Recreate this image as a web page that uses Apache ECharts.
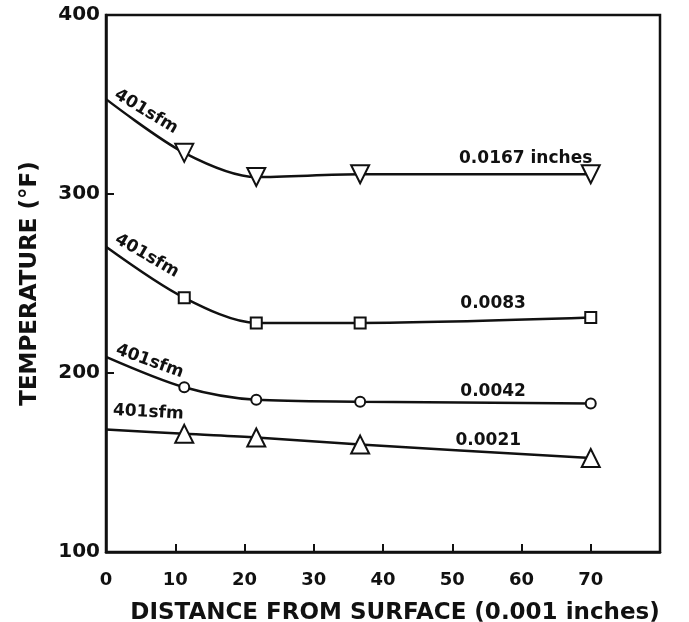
<!DOCTYPE html>
<html style="height: 100%">
  <head>
    <meta charset="UTF-8" />
    <title>Temperature vs distance from surface</title>
    <script src="https://cdn.jsdelivr.net/npm/echarts@6/dist/echarts.min.js"></script>
  </head>
  <body style="height: 100%; margin: 0; background: #fff">
    <div id="main" style="width: 689px; height: 622px"></div>
    <script>
      // data
      var distance = [0, 11.3, 21.7, 36.7, 70];
      var temp0167 = [353, 323, 309.5, 311, 311];
      var temp0083 = [270.5, 242, 228, 228, 231];
      var temp0042 = [209, 192, 185, 184, 183];
      var temp0021 = [168.5, 166, 164, 160, 152.5];

      var depthLabels = ['0.0167 inches', '0.0083', '0.0042', '0.0021'];
      var speedLabel = '401sfm';

      // where the text notes sit, in data units: [x, y, rotate]
      var depthAnchors = [[60.6, 320], [55.9, 239], [55.9, 189.5], [55.2, 162.5]];
      var speedAnchors = [[5.8, 346, -31], [5.9, 265.5, -30], [6.3, 206.5, -20], [6.1, 178, -3]];

      var font = 'DejaVu Sans';
      var black = '#111';

      function pairs(ys) {
        return distance.map(function (x, i) {
          var p = { value: [x, ys[i]] };
          if (i === 0) p.symbol = 'none';
          return p;
        });
      }

      function makeSeries(ys, k, symbol, size, rot) {
        return {
          type: 'line',
          data: pairs(ys),
          smooth: 0.3,
          symbol: symbol,
          symbolSize: size,
          symbolRotate: rot,
          showAllSymbol: true,
          lineStyle: { color: black, width: 2.5 },
          itemStyle: { color: '#fff', borderColor: black, borderWidth: 2 },
          z: 3,
          markPoint: {
            symbol: 'circle',
            symbolSize: 0,
            silent: true,
            data: [
              {
                coord: depthAnchors[k],
                label: {
                  show: true,
                  formatter: depthLabels[k],
                  color: black,
                  fontFamily: font,
                  fontWeight: 'bold',
                  fontSize: 17
                }
              },
              {
                coord: [speedAnchors[k][0], speedAnchors[k][1]],
                label: {
                  show: true,
                  formatter: speedLabel,
                  rotate: speedAnchors[k][2],
                  color: black,
                  fontFamily: font,
                  fontWeight: 'bold',
                  fontSize: 17
                }
              }
            ]
          }
        };
      }

      var chart = echarts.init(document.getElementById('main'));
      chart.setOption({
        animation: false,
        backgroundColor: '#fff',
        grid: {
          left: 106,
          right: 29,
          top: 15,
          bottom: 70,
          outerBoundsMode: 'none',
          show: true,
          borderColor: black,
          borderWidth: 2.5
        },
        xAxis: {
          type: 'value',
          min: 0,
          max: 80,
          interval: 10,
          name: 'DISTANCE FROM SURFACE (0.001 inches)',
          nameLocation: 'middle',
          nameGap: 50,
          nameTextStyle: {
            color: black,
            fontFamily: font,
            fontWeight: 'bold',
            fontSize: 23,
            padding: [0, 0, 0, 24]
          },
          axisLine: { lineStyle: { color: black, width: 2.5 } },
          axisTick: { inside: true, length: 8, lineStyle: { color: black, width: 2 } },
          axisLabel: {
            color: black,
            fontFamily: font,
            fontWeight: 'bold',
            fontSize: 18,
            margin: 19,
            formatter: function (v) { return v === 80 ? '' : v; }
          },
          splitLine: { show: false }
        },
        yAxis: {
          type: 'value',
          min: 100,
          max: 400,
          interval: 100,
          name: 'TEMPERATURE (°F)',
          nameLocation: 'middle',
          nameGap: 64,
          nameTextStyle: { color: black, fontFamily: font, fontWeight: 'bold', fontSize: 23 },
          axisLine: { lineStyle: { color: black, width: 2.5 } },
          axisTick: { inside: true, length: 8, lineStyle: { color: black, width: 2 } },
          axisLabel: {
            color: black,
            fontFamily: font,
            fontWeight: 'bold',
            fontSize: 20,
            margin: 6
          },
          splitLine: { show: false }
        },
        series: [
          makeSeries(temp0167, 0, 'triangle', 18, 180),
          makeSeries(temp0083, 1, 'rect', 11, 0),
          makeSeries(temp0042, 2, 'circle', 10, 0),
          makeSeries(temp0021, 3, 'triangle', 18, 0)
        ]
      });
    </script>
  </body>
</html>
